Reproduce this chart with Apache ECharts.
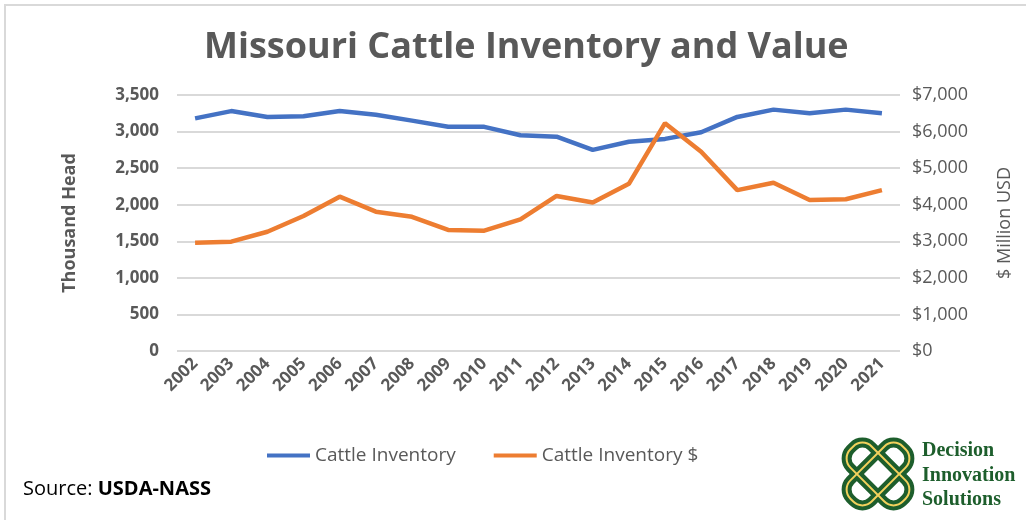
<!DOCTYPE html>
<html>
<head>
<meta charset="utf-8">
<script src="https://cdn.jsdelivr.net/npm/echarts@6/dist/echarts.min.js"></script>
<style>
  html, body { margin: 0; padding: 0; background: #fff; }
  #chart { width: 1026px; height: 520px; }
</style>
</head>
<body>
<div id="chart"></div>
<script>
const years = ['2002', '2003', '2004', '2005', '2006', '2007', '2008', '2009', '2010', '2011',
  '2012', '2013', '2014', '2015', '2016', '2017', '2018', '2019', '2020', '2021']
const inventory = [3180, 3280, 3200, 3210, 3280, 3230, 3150, 3065, 3065, 2950,
  2930, 2750, 2860, 2900, 2990, 3200, 3300, 3250, 3300, 3250]
const inventoryValue = [2960, 2990, 3260, 3690, 4220, 3810, 3670, 3310, 3290, 3600,
  4240, 4060, 4570, 6230, 5450, 4400, 4600, 4130, 4150, 4400]

const fmt = v => v.toLocaleString('en-US')
const textGray = '#595959'
const green = '#1d5e2c'
const gold = '#f2d15c'

const chart = echarts.init(document.getElementById('chart'))

const option = {
  backgroundColor: '#fff',
  animation: false,
  title: {
    text: 'Missouri Cattle Inventory and Value',
    left: 199,
    top: 25,
    textStyle: {
      color: textGray,
      fontFamily: 'Open Sans',
      fontWeight: 'bold',
      fontSize: 36
    }
  },
  legend: {
    top: 441,
    left: 262,
    icon: 'rect',
    itemWidth: 43,
    itemHeight: 4,
    itemGap: 38,
    textStyle: { color: textGray, fontSize: 19, fontFamily: 'Open Sans' }
  },
  grid: { left: 177, right: 126, top: 95, bottom: 169 },
  xAxis: {
    type: 'category',
    data: years,
    boundaryGap: true,
    axisLine: { show: false },
    axisTick: { show: false },
    axisLabel: {
      rotate: 45,
      interval: 0,
      margin: 10,
      color: textGray,
      fontSize: 17,
      fontWeight: 'bold',
      fontFamily: 'Open Sans'
    }
  },
  yAxis: [
    {
      type: 'value',
      min: 0,
      max: 3500,
      interval: 500,
      name: 'Thousand Head',
      nameLocation: 'middle',
      nameGap: 98,
      nameTextStyle: { color: textGray, fontSize: 18, fontWeight: 'bold', fontFamily: 'Open Sans' },
      axisLabel: {
        formatter: fmt,
        color: textGray,
        fontSize: 17,
        fontWeight: 'bold',
        margin: 18,
        fontFamily: 'Open Sans'
      },
      splitLine: { lineStyle: { color: '#d9d9d9', width: 2 } }
    },
    {
      type: 'value',
      min: 0,
      max: 7000,
      interval: 1000,
      name: '$ Million USD',
      nameLocation: 'middle',
      nameRotate: 90,
      nameGap: 96,
      nameTextStyle: { color: textGray, fontSize: 18, fontFamily: 'Open Sans' },
      axisLabel: {
        formatter: v => '$' + fmt(v),
        color: textGray,
        fontSize: 18,
        margin: 12,
        fontFamily: 'Open Sans'
      },
      splitLine: { show: false }
    }
  ],
  series: [
    {
      name: 'Cattle Inventory',
      type: 'line',
      data: inventory,
      yAxisIndex: 0,
      symbol: 'none',
      itemStyle: { color: '#4472c4' },
      lineStyle: { color: '#4472c4', width: 4.5 }
    },
    {
      name: 'Cattle Inventory $',
      type: 'line',
      data: inventoryValue,
      yAxisIndex: 1,
      symbol: 'none',
      itemStyle: { color: '#ed7d31' },
      lineStyle: { color: '#ed7d31', width: 4.5 }
    }
  ],
  graphic: [
    {
      type: 'rect',
      shape: { x: 5, y: 5, width: 1030, height: 530 },
      style: { fill: 'none', stroke: '#d9d9d9', lineWidth: 2 },
      silent: true
    },
    {
      type: 'text',
      left: 23,
      top: 479,
      style: {
        text: '{n|Source: }{b|USDA-NASS}',
        rich: {
          n: { fontSize: 20, fill: '#000', fontFamily: 'Open Sans' },
          b: { fontSize: 20, fill: '#000', fontWeight: 'bold', fontFamily: 'Open Sans' }
        }
      }
    },
    // logo knot
    {
      type: 'group',
      x: 878,
      y: 474,
      children: [
        { type: 'rect', rotation: Math.PI / 4, shape: { x: -37, y: -15, width: 74, height: 30, r: 13 },
          style: { fill: 'none', stroke: green, lineWidth: 10 } },
        { type: 'rect', rotation: -Math.PI / 4, shape: { x: -37, y: -15, width: 74, height: 30, r: 13 },
          style: { fill: 'none', stroke: green, lineWidth: 10 } },
        { type: 'rect', rotation: Math.PI / 4, shape: { x: -37, y: -15, width: 74, height: 30, r: 13 },
          style: { fill: 'none', stroke: gold, lineWidth: 2 } },
        { type: 'rect', rotation: -Math.PI / 4, shape: { x: -37, y: -15, width: 74, height: 30, r: 13 },
          style: { fill: 'none', stroke: gold, lineWidth: 2 } }
      ]
    },
    {
      type: 'text',
      left: 922,
      top: 439,
      style: {
        text: 'Decision\nInnovation\nSolutions',
        fill: green,
        font: 'bold 20px "Liberation Serif"',
        lineHeight: 24.5
      }
    }
  ]
}

chart.setOption(option)
</script>
</body>
</html>
